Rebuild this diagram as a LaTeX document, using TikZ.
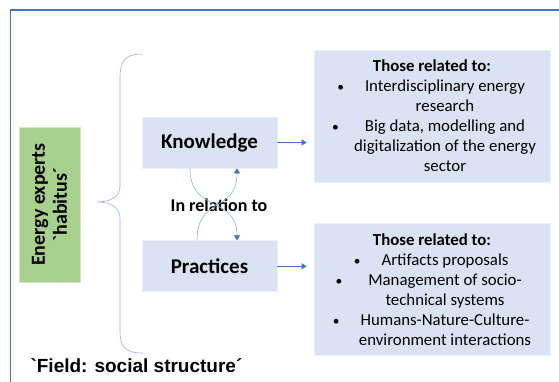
\documentclass[tikz,border=0pt]{standalone}
\usepackage{fontspec}
\setmainfont{Carlito}
\newfontfamily\arialfont{Liberation Sans}
\usetikzlibrary{arrows.meta,positioning}
\definecolor{FrameBlue}{RGB}{68,114,196}
\definecolor{PaleBlue}{RGB}{218,227,243}
\definecolor{BraceBlue}{RGB}{150,178,224}
\definecolor{LeafGreen}{RGB}{169,209,142}
% indent of the bullet lines and the bullet itself
\newcommand{\ind}{\hspace*{26pt}}
\newcommand{\bul}[1]{\llap{\scalebox{0.8}{\textbullet}\hspace{#1}}}

\begin{document}
\begin{tikzpicture}[x=1pt, y=-1pt,
    concept/.style={fill=PaleBlue, draw=PaleBlue!50!white, line width=0.8pt, minimum width=135pt,
      minimum height=51pt, font=\fontsize{21}{25}\selectfont\bfseries},
    topic/.style={fill=PaleBlue, draw=PaleBlue!50!white, line width=0.8pt, minimum width=236pt,
      minimum height=132pt, align=center, inner sep=0pt, font=\fontsize{16.8}{20}\selectfont},
    habitus/.style={fill=LeafGreen, draw=LeafGreen!50!white, line width=0.8pt, rotate=90, minimum width=155pt,
      minimum height=61pt, align=center, font=\fontsize{20}{22}\selectfont\bfseries},
    link/.style={FrameBlue, line width=0.6pt, -{Triangle[width=6pt,length=5pt]}, shorten >=7pt},
    relation/.style={BraceBlue, line width=0.6pt, -{Triangle[width=6pt,length=5pt,color=FrameBlue]}}
  ]
    \useasboundingbox (0,0) rectangle (559,382);
    % open frame
    \draw[FrameBlue, line width=1.5pt] (10.5,382) -- (10.5,10) -- (559,10);

    \node[habitus] (expert) at (49.5,204.5) {Energy experts\\\textasciigrave habitus´};

    % curly brace
    \draw[BraceBlue, line width=0.6pt] (143,54) .. controls (124,54) and (120,62) .. (120,78) -- (120,186)
      .. controls (120,197) and (110,202) .. (97,202) .. controls (110,202) and (120,207) .. (120,218)
      -- (120,330) .. controls (120,346) and (124,353) .. (143,353);

    \node[concept] (know) at (209.5,142.5) {Knowledge};
    \node[concept, below=72pt of know] (pract) {Practices};
    \node[font=\fontsize{18}{21}\selectfont\bfseries] (rel) at (219,205) {In relation to};

    \draw[relation] ([xshift=-19.5pt]know.south) .. controls +(0,45) and +(0,-45) .. ([xshift=27.5pt]pract.north);
    \draw[relation] ([xshift=-12.5pt]pract.north) .. controls +(0,-45) and +(0,45) .. ([xshift=27.5pt]know.south);

    \node[topic] (knowtop) at (432,116) {{\bfseries Those related to:}\\
      \ind\bul{21pt}Interdisciplinary energy\\
      \ind research\\
      \ind\bul{26pt}Big data, modelling and\\
      \ind digitalization of the energy\\
      \ind sector};
    \node[topic] (practop) at (432,289.5) {{\bfseries Those related to:}\\
      \ind\bul{21pt}Artifacts proposals\\
      \ind\bul{26pt}Management of socio-\\
      \ind technical systems\\
      \ind\bul{21pt}Humans-Nature-Culture-\\
      \ind environment interactions};

    \draw[link] (know.east) -- (know.east -| knowtop.west);
    \draw[link] (pract.east) -- (pract.east -| practop.west);

    \node[anchor=west, font=\arialfont\bfseries\fontsize{19}{22}\selectfont] (field) at (27,366)
      {\textasciigrave Field: social structure´};
\end{tikzpicture}
\end{document}
